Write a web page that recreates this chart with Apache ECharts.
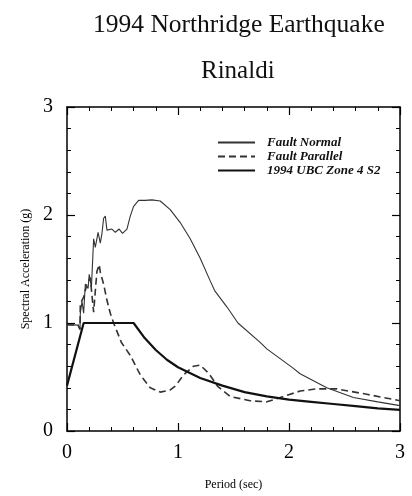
<!DOCTYPE html>
<html>
<head>
<meta charset="utf-8">
<script src="https://cdn.jsdelivr.net/npm/echarts@6/dist/echarts.min.js"></script>
<style>html,body{margin:0;padding:0;background:#fff;}#c{width:412px;height:496px;}</style>
</head>
<body>
<div id="c"></div>
<script>
var titleText = '1994 Northridge Earthquake';
var subText = 'Rinaldi';
var xTicks = [0, 1, 2, 3];
var yTicks = [0, 1, 2, 3];

var faultNormal = [
  [0,0.985],[0.10,0.98],[0.117,0.94],[0.12,1.09],[0.135,1.20],[0.15,1.09],[0.165,1.36],[0.19,1.32],
  [0.20,1.45],[0.22,1.33],[0.24,1.78],[0.255,1.70],[0.28,1.84],[0.30,1.74],[0.315,1.83],[0.33,1.97],
  [0.345,1.99],[0.36,1.86],[0.375,1.86],[0.405,1.87],[0.435,1.84],[0.47,1.87],[0.50,1.83],[0.54,1.87],
  [0.57,1.99],[0.60,2.08],[0.645,2.135],[0.705,2.135],[0.765,2.14],[0.84,2.13],[0.93,2.05],[1.02,1.93],
  [1.11,1.78],[1.20,1.60],[1.29,1.39],[1.33,1.30],[1.44,1.15],[1.54,1.00],[1.74,0.82],[1.80,0.76],
  [2.04,0.58],[2.10,0.53],[2.34,0.40],[2.58,0.31],[2.80,0.27],[3.0,0.235]
];
var faultParallel = [
  [0,0.985],[0.10,0.98],[0.117,0.94],[0.12,1.18],[0.15,1.24],[0.18,1.36],[0.21,1.42],[0.23,1.20],
  [0.24,1.10],[0.26,1.36],[0.27,1.48],[0.29,1.54],[0.30,1.47],[0.33,1.36],[0.36,1.21],[0.39,1.09],
  [0.42,1.00],[0.49,0.82],[0.57,0.70],[0.66,0.52],[0.75,0.40],[0.84,0.36],[0.93,0.38],[0.98,0.42],
  [1.05,0.52],[1.14,0.60],[1.20,0.61],[1.28,0.53],[1.36,0.41],[1.47,0.32],[1.65,0.28],[1.80,0.27],
  [1.95,0.32],[2.10,0.37],[2.25,0.39],[2.43,0.39],[2.70,0.34],[3.0,0.28]
];
var ubc = [
  [0,0.42],[0.15,1.0],[0.60,1.0],[0.70,0.86],[0.80,0.75],[0.90,0.66],[1.0,0.59],[1.2,0.49],[1.4,0.42],
  [1.6,0.36],[1.8,0.32],[2.0,0.29],[2.2,0.27],[2.4,0.25],[2.6,0.23],[2.8,0.21],[3.0,0.195]
];
var seriesNames = ['Fault Normal', 'Fault Parallel', '1994 UBC Zone 4 S2'];

var serif = 'Liberation Serif';
var chart = echarts.init(document.getElementById('c'), null, {renderer: 'canvas'});

function axisBase(pos, showLabel, name) {
  return {
    type: 'value', min: 0, max: 3, interval: 1, position: pos,
    name: name || '', nameLocation: 'middle',
    nameTextStyle: {fontFamily: serif, fontSize: 12, color: '#000'},
    axisLine: {show: true, onZero: false, lineStyle: {color: '#000', width: 1.5}},
    axisTick: {show: true, inside: true, length: 8, lineStyle: {color: '#000', width: 1.2}},
    minorTick: {show: true, splitNumber: 5, length: 4, lineStyle: {color: '#000', width: 1}},
    splitLine: {show: false},
    minorSplitLine: {show: false},
    axisLabel: {show: showLabel, fontFamily: serif, fontSize: 20, color: '#000',
      formatter: function (v) { return String(v); }}
  };
}

var xa = axisBase('bottom', true, 'Period (sec)');
xa.nameGap = 48; xa.axisLabel.margin = 12;
var xt = axisBase('top', false);
var ya = axisBase('left', true, 'Spectral Acceleration (g)');
ya.nameGap = 23; ya.axisLabel.margin = 14;
var yr = axisBase('right', false);

chart.setOption({
  backgroundColor: '#fff',
  animation: false,
  title: [
    {text: titleText, left: 88, top: 7, textStyle: {fontFamily: serif, fontSize: 25.5, fontWeight: 'normal', color: '#111'}},
    {text: subText, left: 196, top: 54, textStyle: {fontFamily: serif, fontSize: 25, fontWeight: 'normal', color: '#111'}}
  ],
  grid: {left: 67, right: 12, top: 107, bottom: 55},
  xAxis: [xa, xt],
  yAxis: [ya, yr],
  legend: {
    orient: 'vertical', left: 212, top: 131, itemWidth: 37, itemHeight: 10, itemGap: 1,
    data: seriesNames,
    itemStyle: {opacity: 0},
    textStyle: {fontFamily: serif, fontSize: 13, fontStyle: 'italic', fontWeight: 'bold', color: '#111', padding: [0, 0, 0, 7]}
  },
  series: [
    {name: seriesNames[0], type: 'line', data: faultNormal, symbol: 'none', lineStyle: {color: '#333', width: 1.1}, itemStyle: {color: '#333'}},
    {name: seriesNames[1], type: 'line', data: faultParallel, symbol: 'none', lineStyle: {color: '#333', width: 1.6, type: [7, 4]}, itemStyle: {color: '#333'}},
    {name: seriesNames[2], type: 'line', data: ubc, symbol: 'none', lineStyle: {color: '#111', width: 2.2}, itemStyle: {color: '#111'}}
  ]
});
</script>
</body>
</html>
